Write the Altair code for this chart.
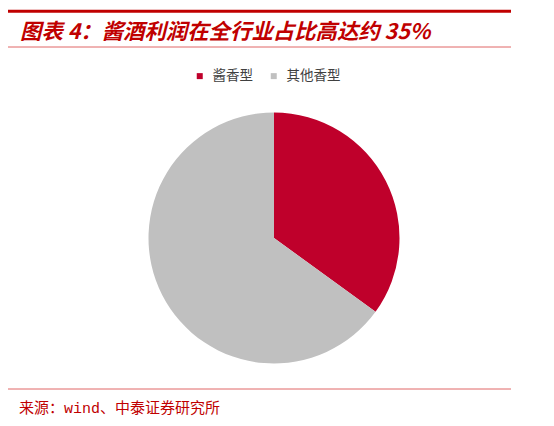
import altair as alt
import pandas as pd

# share of liquor industry profit by aroma type (%)
categories = ["酱香型", "其他香型"]
shares = [35, 65]
colors = ["#BF002B", "#C0C0C0"]

title_text = "图表 4：酱酒利润在全行业占比高达约 35%"
source_text = "来源：wind、中泰证券研究所"

df = pd.DataFrame({"type": categories, "share": shares, "rank": list(range(len(categories)))})

pie = alt.Chart(df).mark_arc(radius=125.5).encode(
    theta=alt.Theta("share:Q", stack=True),
    order=alt.Order("rank:Q"),
    color=alt.Color("type:N", sort=categories,
                    scale=alt.Scale(domain=categories, range=colors),
                    legend=alt.Legend(title=None, orient="none", direction="horizontal",
                                      legendX=185, legendY=61,
                                      symbolType="square", symbolSize=36, symbolStrokeWidth=0,
                                      labelFont="Noto Sans CJK SC", labelFontSize=13.5,
                                      labelColor="#404040", labelOffset=6, columnPadding=14)),
    x=alt.value(266),
    y=alt.value(230),
)

# header / footer decorations
one = pd.DataFrame({"t": [title_text]})
title = alt.Chart(one).mark_text(
    align="left", baseline="alphabetic", font="Noto Sans CJK SC", fontSize=21.4,
    fontStyle="italic", fontWeight="bold", color="#C00000"
).encode(text="t:N", x=alt.value(12), y=alt.value(31))

src = alt.Chart(pd.DataFrame({"t": [source_text]})).mark_text(
    align="left", baseline="middle", font="Liberation Mono, Noto Sans CJK SC", fontSize=15,
    color="#C00000"
).encode(text="t:N", x=alt.value(11), y=alt.value(400))

top_rule = alt.Chart(one).mark_rule(color="#C00000", strokeWidth=3).encode(
    x=alt.value(-1), x2=alt.value(503), y=alt.value(3.3))
sub_rule = alt.Chart(one).mark_rule(color="#E06666", strokeWidth=1).encode(
    x=alt.value(-1), x2=alt.value(503), y=alt.value(39))
foot_rule = alt.Chart(one).mark_rule(color="#E06666", strokeWidth=1).encode(
    x=alt.value(-1), x2=alt.value(503), y=alt.value(381))

chart = alt.layer(top_rule, title, sub_rule, pie, foot_rule, src).properties(
    width=538, height=410, autosize="none", padding=0
).configure_view(stroke=None)

chart.save("out.html", embed_options={"renderer": "svg", "actions": False})
